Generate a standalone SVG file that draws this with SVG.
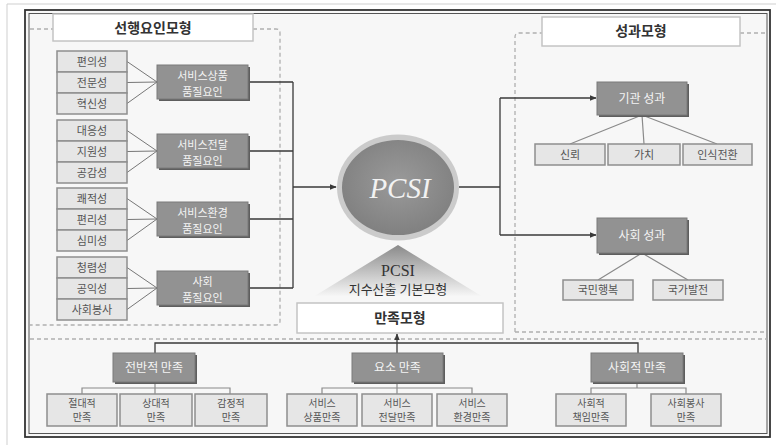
<svg xmlns="http://www.w3.org/2000/svg" width="776" height="445" viewBox="0 0 776 445">
<defs>
<style>
.k{font-family:"Noto Sans CJK KR","Noto Sans",sans-serif;text-anchor:middle}
.t{font-size:14px;fill:#333;font-weight:bold}
.s{font-size:11px;fill:#555}
.f{font-size:11px;fill:#f4f4f4}
.g{font-size:12px;fill:#f4f4f4}
.b{font-size:10px;fill:#555}
.sb{fill:#e6e6e6;stroke:#8e8e8e;stroke-width:1.5}
.db{fill:#929292;stroke:#7a7a7a;stroke-width:1}
.sh{fill:#5e5e5e}
.tb{fill:#fff;stroke:#c4c4c4;stroke-width:1.5}
.dash{fill:none;stroke:#b0b0b0;stroke-width:1.3;stroke-dasharray:4 3}
.ln{fill:none;stroke:#3a3a3a;stroke-width:1.3}
.fan{fill:none;stroke:#777;stroke-width:1}
.sub{fill:none;stroke:#8a8a8a;stroke-width:1.2}
</style>
<marker id="ar" viewBox="0 0 10 10" refX="9" refY="5" markerWidth="7" markerHeight="7" orient="auto-start-reverse" markerUnits="userSpaceOnUse">
<path d="M0,1 L10,5 L0,9 z" fill="#3a3a3a"/>
</marker>
<linearGradient id="tri" x1="0" y1="0" x2="0" y2="1">
<stop offset="0" stop-color="#8a8a8a"/>
<stop offset="1" stop-color="#f8f8f8"/>
</linearGradient>
<radialGradient id="cg" cx="0.5" cy="0.45" r="0.6">
<stop offset="0" stop-color="#9a9a9a"/>
<stop offset="1" stop-color="#7e7e7e"/>
</radialGradient>
</defs>
<rect width="776" height="445" fill="#fff"/>
<path d="M7,445 V4 H776" fill="none" stroke="#cfcfcf" stroke-width="1"/>
<rect x="25" y="10" width="745" height="427" fill="#f7f7f7" stroke="#333" stroke-width="1.8"/>
<rect x="29" y="13.5" width="738" height="420" fill="none" stroke="#555" stroke-width="1"/>

<g id="sections">
<path class="dash" d="M30,29 H53 M253,29 H276 Q280,29 280,33 V321 Q280,325 276,325 H30"/>
<path class="dash" d="M515,332 V37 Q515,33 519,33 H542 M740,33 H767 M515,332 H767"/>
<path class="dash" d="M30,339 H767"/>
</g>

<g id="title-antecedent"><rect class="tb" x="53" y="14" width="200" height="27"/><text class="k t" x="153" y="33">선행요인모형</text></g>
<g id="title-outcome"><rect class="tb" x="542" y="17" width="198" height="29"/><text class="k t" x="641" y="36">성과모형</text></g>

<g id="connectors">
<path class="fan" d="M127,61.5 L157,82 M127,82.5 L157,82 M127,103.5 L157,82"/>
<path class="fan" d="M127,130.5 L157,151 M127,151.5 L157,151 M127,172.5 L157,151"/>
<path class="fan" d="M127,198.5 L157,219 M127,219.5 L157,219 M127,240.5 L157,219"/>
<path class="fan" d="M127,267.5 L157,288 M127,288.5 L157,288 M127,309.5 L157,288"/>
<path class="ln" d="M248,82 H293 M248,151 H293 M248,219 H293 M248,288 H293 M293,82 V288"/>
<path class="ln" d="M293,187 H336" marker-end="url(#ar)"/>
<path class="ln" d="M459,187 H500 M500,98 V235"/>
<path class="ln" d="M500,98 H596" marker-end="url(#ar)"/>
<path class="ln" d="M500,235 H596" marker-end="url(#ar)"/>
<path class="sub" d="M642,115 L570,144 M642,115 L644,144 M642,115 L717,144"/>
<path class="sub" d="M642,253 L598,280 M642,253 L688,280"/>
<path class="ln" d="M155,353 V343 H638 V353"/>
<path class="ln" d="M397,353 V334" marker-end="url(#ar)"/>
<path class="sub" d="M155,382 V394 M82,394 V388 H230 V394"/>
<path class="sub" d="M397,382 V394 M322,394 V388 H472 V394"/>
<path class="sub" d="M637,382 V388 M591,394 V388 H686 V394"/>
</g>

<g id="attr-g1">
<rect class="sb" x="57" y="51" width="70" height="21"/><text class="k s" x="92" y="65.5">편의성</text>
<rect class="sb" x="57" y="72" width="70" height="21"/><text class="k s" x="92" y="86.5">전문성</text>
<rect class="sb" x="57" y="93" width="70" height="21"/><text class="k s" x="92" y="107.5">혁신성</text>
</g>
<g id="attr-g2">
<rect class="sb" x="57" y="120" width="70" height="21"/><text class="k s" x="92" y="134.5">대응성</text>
<rect class="sb" x="57" y="141" width="70" height="21"/><text class="k s" x="92" y="155.5">지원성</text>
<rect class="sb" x="57" y="162" width="70" height="21"/><text class="k s" x="92" y="176.5">공감성</text>
</g>
<g id="attr-g3">
<rect class="sb" x="57" y="188" width="70" height="21"/><text class="k s" x="92" y="202.5">쾌적성</text>
<rect class="sb" x="57" y="209" width="70" height="21"/><text class="k s" x="92" y="223.5">편리성</text>
<rect class="sb" x="57" y="230" width="70" height="21"/><text class="k s" x="92" y="244.5">심미성</text>
</g>
<g id="attr-g4">
<rect class="sb" x="57" y="257" width="70" height="21"/><text class="k s" x="92" y="271.5">청렴성</text>
<rect class="sb" x="57" y="278" width="70" height="21"/><text class="k s" x="92" y="292.5">공익성</text>
<rect class="sb" x="57" y="299" width="70" height="21"/><text class="k s" x="92" y="313.5">사회봉사</text>
</g>

<g id="factor-product"><rect class="sh" x="159" y="67" width="91" height="34"/><rect class="db" x="157" y="65" width="91" height="34"/><text class="k f" x="202.5" y="80">서비스상품</text><text class="k f" x="202.5" y="96">품질요인</text></g>
<g id="factor-delivery"><rect class="sh" x="159" y="136" width="91" height="34"/><rect class="db" x="157" y="134" width="91" height="34"/><text class="k f" x="202.5" y="149">서비스전달</text><text class="k f" x="202.5" y="165">품질요인</text></g>
<g id="factor-environment"><rect class="sh" x="159" y="204" width="91" height="34"/><rect class="db" x="157" y="202" width="91" height="34"/><text class="k f" x="202.5" y="217">서비스환경</text><text class="k f" x="202.5" y="233">품질요인</text></g>
<g id="factor-social"><rect class="sh" x="159" y="273" width="91" height="34"/><rect class="db" x="157" y="271" width="91" height="34"/><text class="k f" x="202.5" y="286">사회</text><text class="k f" x="202.5" y="302">품질요인</text></g>

<g id="pcsi">
<ellipse cx="398" cy="187.5" rx="61" ry="53" fill="#cbcbcb"/>
<ellipse cx="398" cy="187.5" rx="56" ry="47.5" fill="url(#cg)"/>
<text x="400" y="198" font-family="Liberation Serif,serif" font-style="italic" font-size="29" fill="#f2f2f2" text-anchor="middle">PCSI</text>
</g>

<g id="pcsi-base-model">
<polygon points="398,245 483,297 313,297" fill="url(#tri)"/>
<text x="398" y="276" font-family="Liberation Serif,serif" font-size="16" fill="#333" text-anchor="middle">PCSI</text>
<text class="k" x="398" y="294" font-size="13" fill="#333">지수산출 기본모형</text>
</g>

<g id="satisfaction-model"><rect class="tb" x="297" y="303" width="206" height="30"/><text class="k t" x="400" y="323">만족모형</text></g>

<g id="org-outcome"><rect class="sh" x="599" y="84" width="90" height="33"/><rect class="db" x="597" y="82" width="90" height="33"/><text class="k g" x="642" y="103">기관 성과</text></g>
<g id="trust"><rect class="sb" x="535" y="144" width="70" height="21"/><text class="k s" x="570" y="158.5">신뢰</text></g>
<g id="value"><rect class="sb" x="608" y="144" width="72" height="21"/><text class="k s" x="644" y="158.5">가치</text></g>
<g id="perception"><rect class="sb" x="683" y="144" width="69" height="21"/><text class="k s" x="717.5" y="158.5">인식전환</text></g>

<g id="social-outcome"><rect class="sh" x="599" y="220" width="90" height="35"/><rect class="db" x="597" y="218" width="90" height="35"/><text class="k g" x="642" y="240">사회 성과</text></g>
<g id="happiness"><rect class="sb" x="563" y="280" width="70" height="20"/><text class="k s" x="598" y="294">국민행복</text></g>
<g id="development"><rect class="sb" x="653" y="280" width="70" height="20"/><text class="k s" x="688" y="294">국가발전</text></g>

<g id="overall-sat"><rect class="sh" x="115" y="355" width="82" height="29"/><rect class="db" x="113" y="353" width="82" height="29"/><text class="k g" x="154" y="372">전반적 만족</text></g>
<g id="element-sat"><rect class="sh" x="354" y="355" width="91" height="29"/><rect class="db" x="352" y="353" width="91" height="29"/><text class="k g" x="397.5" y="372">요소 만족</text></g>
<g id="social-sat"><rect class="sh" x="593" y="355" width="92" height="29"/><rect class="db" x="591" y="353" width="92" height="29"/><text class="k g" x="637" y="372">사회적 만족</text></g>

<g id="absolute"><rect class="sb" x="47" y="394" width="70" height="32"/><text class="k b" x="82" y="406.5">절대적</text><text class="k b" x="82" y="421">만족</text></g>
<g id="relative"><rect class="sb" x="120" y="394" width="72" height="32"/><text class="k b" x="156" y="406.5">상대적</text><text class="k b" x="156" y="421">만족</text></g>
<g id="emotional"><rect class="sb" x="195" y="394" width="72" height="32"/><text class="k b" x="231" y="406.5">감정적</text><text class="k b" x="231" y="421">만족</text></g>
<g id="product-sat"><rect class="sb" x="287" y="394" width="70" height="32"/><text class="k b" x="322" y="406.5">서비스</text><text class="k b" x="322" y="421">상품만족</text></g>
<g id="delivery-sat"><rect class="sb" x="362" y="394" width="70" height="32"/><text class="k b" x="397" y="406.5">서비스</text><text class="k b" x="397" y="421">전달만족</text></g>
<g id="environment-sat"><rect class="sb" x="437" y="394" width="70" height="32"/><text class="k b" x="472" y="406.5">서비스</text><text class="k b" x="472" y="421">환경만족</text></g>
<g id="responsibility-sat"><rect class="sb" x="556" y="394" width="70" height="32"/><text class="k b" x="591" y="406.5">사회적</text><text class="k b" x="591" y="421">책임만족</text></g>
<g id="volunteer-sat"><rect class="sb" x="651" y="394" width="70" height="32"/><text class="k b" x="686" y="406.5">사회봉사</text><text class="k b" x="686" y="421">만족</text></g>
</svg>
